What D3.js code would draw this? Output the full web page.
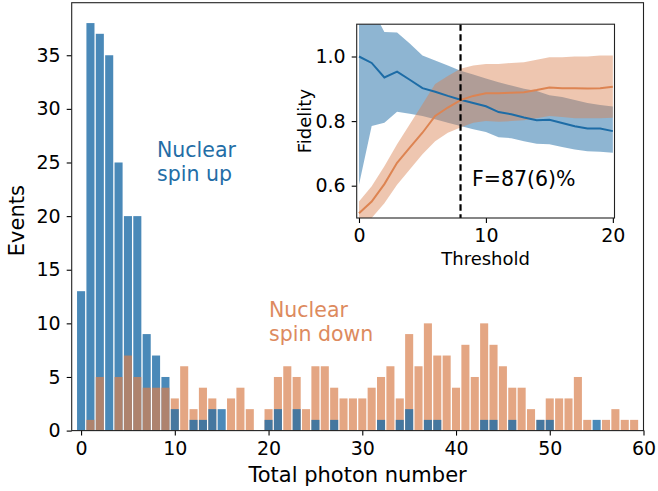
<!DOCTYPE html>
<html><head><meta charset="utf-8">
<script src="https://cdn.jsdelivr.net/npm/d3@7"></script>
<style>
html,body{margin:0;padding:0;background:#fff;}
svg{display:block;font-family:"DejaVu Sans",sans-serif;}
</style></head>
<body><svg id="chart" width="658" height="491"></svg>
<script>
// ---- data ----
const bins = d3.range(0, 60);
const spinUpCounts = [13,38,37,35,25,20,20,9,7,5, 2,0,1,1,2,2,0,0,0,0, 1,2,0,2,0,1,0,1,0,0, 0,0,1,0,1,2,0,1,1,0, 0,0,0,1,1,0,1,0,0,1, 1,0,0,0,0,1,0,0,0,0];
const spinDownCounts = [0,1,5,0,5,7,5,4,4,4, 3,6,2,4,3,0,3,4,2,0, 2,5,6,5,2,6,6,4,3,3, 3,4,5,6,3,9,6,10,7,7, 4,8,5,10,8,6,4,4,2,1, 3,3,3,5,1,0,1,2,1,1];
const xTicks = [0,10,20,30,40,50,60];
const yTicks = [0,5,10,15,20,25,30,35];

const thresholds = d3.range(0, 21);
const fidUp      = [1.000,0.980,0.935,0.953,0.928,0.902,0.891,0.878,0.866,0.856,0.846,0.828,0.821,0.811,0.803,0.804,0.794,0.784,0.777,0.777,0.769];
const fidUpHi    = [1.20,1.15,1.076,1.074,1.040,1.003,0.988,0.972,0.956,0.944,0.932,0.920,0.910,0.900,0.893,0.880,0.875,0.865,0.856,0.850,0.845];
const fidUpLo    = [0.603,0.785,0.795,0.829,0.823,0.816,0.806,0.795,0.785,0.775,0.766,0.750,0.747,0.738,0.730,0.728,0.720,0.712,0.707,0.705,0.702];
const fidDown    = [0.515,0.551,0.605,0.671,0.718,0.764,0.816,0.842,0.865,0.878,0.886,0.886,0.888,0.889,0.896,0.904,0.902,0.902,0.901,0.902,0.906];
const fidDownHi  = [0.551,0.598,0.660,0.728,0.790,0.852,0.915,0.940,0.962,0.972,0.977,0.977,0.980,0.982,0.990,0.998,0.998,1.000,1.000,1.003,1.003];
const fidDownLo  = [0.470,0.500,0.546,0.603,0.650,0.697,0.738,0.764,0.780,0.795,0.800,0.798,0.800,0.803,0.809,0.816,0.813,0.809,0.809,0.809,0.810];
const insetXTicks = [0,10,20];
const insetYTicks = [0.6,0.8,1.0];
const chosenThreshold = 8;

const BLUE = "#1d6ca6", ORANGE = "#d9804f";

const svg = d3.select("#chart");

// ---- main axes ----
const M = {l:71.7, r:643.5, t:2.7, b:430.6};
const x = d3.scaleLinear().domain([-1, 60]).range([M.l, M.r]);
const y = d3.scaleLinear().domain([0, 39.9]).range([M.b, M.t]);
const bw = 0.86;

const data = bins.map((b,i)=>({b, up:spinUpCounts[i], down:spinDownCounts[i]}));
const g = svg.append("g");
function bars(sel, key, color, op){
  g.selectAll(null).data(sel).enter().append("rect")
    .attr("x", d=>x(d.b - bw/2)).attr("width", x(bw)-x(0))
    .attr("y", d=>y(d[key])).attr("height", d=>y(0)-y(d[key]))
    .attr("fill", color).attr("fill-opacity", op);
}
bars(data.filter(d=>d.b<10 && d.up>0), "up", BLUE, 0.8);
bars(data.filter(d=>d.down>0), "down", ORANGE, 0.7);
bars(data.filter(d=>d.b>=10 && d.up>0), "up", BLUE, 0.8);

// axes
const fs = 19;
const xAxis = g.append("g").attr("transform",`translate(0,${M.b})`)
  .call(d3.axisBottom(x).tickValues(xTicks).tickSize(5).tickPadding(6).tickFormat(d3.format("d")));
const yAxis = g.append("g").attr("transform",`translate(${M.l},0)`)
  .call(d3.axisLeft(y).tickValues(yTicks).tickSize(5).tickPadding(6).tickFormat(d3.format("d")));
[xAxis,yAxis].forEach(a=>{
  a.select(".domain").remove();
  a.selectAll("line").attr("stroke","#000").attr("stroke-width",1.1);
  a.selectAll("text").attr("font-size",fs).attr("fill","#000").attr("font-family","DejaVu Sans");
});
g.append("rect").attr("x",M.l).attr("y",M.t).attr("width",M.r-M.l).attr("height",M.b-M.t)
  .attr("fill","none").attr("stroke","#222").attr("stroke-width",1.1);

g.append("text").attr("x",(M.l+M.r)/2).attr("y",482).attr("text-anchor","middle")
  .attr("font-size",21).text("Total photon number");
g.append("text").attr("transform",`translate(24,${(M.t+M.b)/2+4}) rotate(-90)`).attr("text-anchor","middle")
  .attr("font-size",21).text("Events");

// annotations
const upText = g.append("text").attr("x",157).attr("y",157).attr("font-size",20.5).attr("fill","#236da6");
upText.append("tspan").attr("x",157).text("Nuclear");
upText.append("tspan").attr("x",157).attr("dy",23.5).text("spin up");
const dnText = g.append("text").attr("x",269).attr("y",317).attr("font-size",20.5).attr("fill","#dd8a5e");
dnText.append("tspan").attr("x",269).text("Nuclear");
dnText.append("tspan").attr("x",269).attr("dy",23.5).text("spin down");

// ---- inset ----
const I = {l:356.7, r:614.5, t:24.2, b:218};
const xi = d3.scaleLinear().domain([-0.18, 20.13]).range([I.l, I.r]);
const yi = d3.scaleLinear().domain([0.5, 1.1]).range([I.b, I.t]);
const gi = svg.append("g");
gi.append("rect").attr("x",I.l).attr("y",I.t).attr("width",I.r-I.l).attr("height",I.b-I.t).attr("fill","#fff");
svg.append("clipPath").attr("id","ic").append("rect")
  .attr("x",I.l).attr("y",I.t).attr("width",I.r-I.l).attr("height",I.b-I.t);
const gc = gi.append("g").attr("clip-path","url(#ic)");
const area = (lo,hi)=>d3.area().x((d,i)=>xi(thresholds[i])).y0((d,i)=>yi(lo[i])).y1((d,i)=>yi(hi[i]));
const line = (v)=>d3.line().x((d,i)=>xi(thresholds[i])).y((d,i)=>yi(v[i]));
gc.append("path").datum(thresholds).attr("d",area(fidUpLo,fidUpHi)).attr("fill",BLUE).attr("fill-opacity",0.5);
gc.append("path").datum(thresholds).attr("d",area(fidDownLo,fidDownHi)).attr("fill",ORANGE).attr("fill-opacity",0.45);
gc.append("path").datum(thresholds).attr("d",line(fidUp)).attr("fill","none").attr("stroke",BLUE).attr("stroke-width",2);
gc.append("path").datum(thresholds).attr("d",line(fidDown)).attr("fill","none").attr("stroke","#dd8452").attr("stroke-width",2);
gc.append("line").attr("x1",xi(chosenThreshold)).attr("x2",xi(chosenThreshold)).attr("y1",I.t).attr("y2",I.b)
  .attr("stroke","#000").attr("stroke-width",2.2).attr("stroke-dasharray","6.5,3.5");

const xiAxis = gi.append("g").attr("transform",`translate(0,${I.b})`)
  .call(d3.axisBottom(xi).tickValues(insetXTicks).tickSize(5).tickPadding(6).tickFormat(d3.format("d")));
const yiAxis = gi.append("g").attr("transform",`translate(${I.l},0)`)
  .call(d3.axisLeft(yi).tickValues(insetYTicks).tickSize(5).tickPadding(6).tickFormat(d3.format(".1f")));
[xiAxis,yiAxis].forEach(a=>{
  a.select(".domain").remove();
  a.selectAll("line").attr("stroke","#000").attr("stroke-width",1.1);
  a.selectAll("text").attr("font-size",fs).attr("fill","#000").attr("font-family","DejaVu Sans");
});
gi.append("rect").attr("x",I.l).attr("y",I.t).attr("width",I.r-I.l).attr("height",I.b-I.t)
  .attr("fill","none").attr("stroke","#222").attr("stroke-width",1.1);
gi.append("text").attr("x",(I.l+I.r)/2).attr("y",265).attr("text-anchor","middle").attr("font-size",18).text("Threshold");
gi.append("text").attr("transform",`translate(311,${(I.t+I.b)/2}) rotate(-90)`).attr("text-anchor","middle")
  .attr("font-size",18).text("Fidelity");
gi.append("text").attr("x",472).attr("y",186).attr("font-size",20.5).text("F=87(6)%");
</script></body></html>
